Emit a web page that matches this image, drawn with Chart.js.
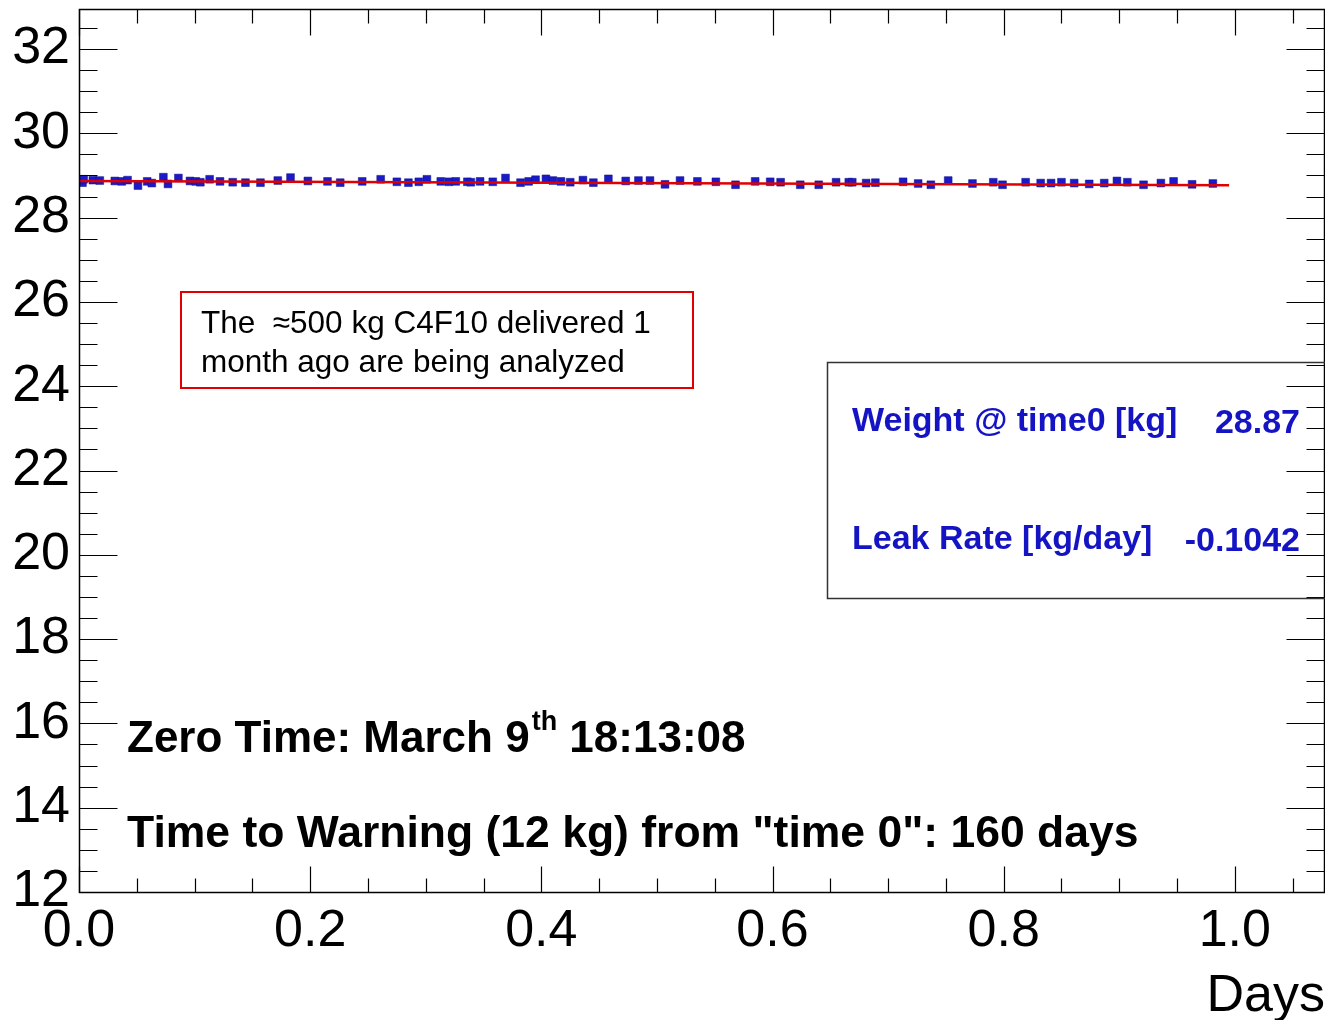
<!DOCTYPE html>
<html>
<head>
<meta charset="utf-8">
<script src="https://cdn.jsdelivr.net/npm/chart.js@4.4.1/dist/chart.umd.min.js"></script>
<style>
  html, body { margin: 0; padding: 0; background: #fff; }
  #wrap { width: 1325px; height: 1020px; position: relative; }
</style>
</head>
<body>
<div id="wrap"><canvas id="c"></canvas></div>
<script>
// ── Data ──────────────────────────────────────────────────
const timeDays = [
  0.003, 0.004, 0.012, 0.018, 0.031, 0.037, 0.042, 0.051, 0.059, 0.063,
  0.073, 0.077, 0.086, 0.096, 0.101, 0.105, 0.113, 0.122, 0.133, 0.144,
  0.157, 0.172, 0.183, 0.198, 0.215, 0.226, 0.245, 0.261, 0.275, 0.285,
  0.294, 0.301, 0.313, 0.320, 0.326, 0.336, 0.339, 0.347, 0.358, 0.369,
  0.382, 0.389, 0.395, 0.404, 0.410, 0.417, 0.425, 0.436, 0.445, 0.458,
  0.473, 0.484, 0.494, 0.507, 0.520, 0.535, 0.551, 0.568, 0.585, 0.598,
  0.607, 0.624, 0.640, 0.655, 0.666, 0.669, 0.681, 0.689, 0.713, 0.726,
  0.737, 0.752, 0.773, 0.791, 0.799, 0.819, 0.832, 0.841, 0.850, 0.861,
  0.874, 0.887, 0.898, 0.907, 0.921, 0.936, 0.947, 0.963, 0.981
];
const weightKg = [
  28.83, 28.91, 28.89, 28.88, 28.87, 28.86, 28.89, 28.76, 28.86, 28.82,
  28.96, 28.80, 28.94, 28.87, 28.86, 28.84, 28.91, 28.86, 28.84, 28.83,
  28.83, 28.88, 28.95, 28.87, 28.86, 28.83, 28.86, 28.91, 28.85, 28.83,
  28.85, 28.91, 28.86, 28.85, 28.86, 28.85, 28.84, 28.86, 28.85, 28.94,
  28.83, 28.86, 28.90, 28.92, 28.88, 28.86, 28.84, 28.89, 28.83, 28.92,
  28.87, 28.88, 28.88, 28.79, 28.88, 28.86, 28.85, 28.78, 28.86, 28.85,
  28.84, 28.78, 28.78, 28.84, 28.84, 28.84, 28.82, 28.83, 28.85, 28.81,
  28.78, 28.88, 28.81, 28.84, 28.78, 28.84, 28.82, 28.82, 28.84, 28.82,
  28.80, 28.82, 28.87, 28.84, 28.78, 28.82, 28.86, 28.79, 28.81
];
// linear fit: 28.87 kg at time 0, -0.1042 kg/day
const fitDays = [0, 0.995];
const fitKg = [28.87, 28.766];

const xTicks = [0, 0.2, 0.4, 0.6, 0.8, 1.0];
const yTicks = [12, 14, 16, 18, 20, 22, 24, 26, 28, 30, 32];

const FONT = '"Liberation Sans", Arial, Helvetica, sans-serif';

// ── ROOT-style frame, inward ticks and text boxes ─────────
const rootFrame = {
  id: 'rootFrame',
  afterDraw(chart) {
    const { ctx, chartArea: a, scales: { x, y } } = chart;
    const L = a.left + 0.5, R = a.right - 0.5, T = a.top + 0.5, B = a.bottom + 0.5;
    ctx.save();
    ctx.strokeStyle = '#000';
    ctx.lineWidth = 1.5;
    ctx.strokeRect(L, T, R - L, B - T);

    ctx.lineWidth = 1.2;
    ctx.beginPath();
    // y ticks, every 0.5 kg, long at every 2 kg
    for (let v = y.min; v <= y.max + 1e-9; v += 0.5) {
      const py = Math.round(y.getPixelForValue(v)) + 0.5;
      const len = Math.abs(v / 2 - Math.round(v / 2)) < 1e-6 ? 38 : 18;
      ctx.moveTo(L, py); ctx.lineTo(L + len, py);
      ctx.moveTo(R, py); ctx.lineTo(R - len, py);
    }
    // x ticks, every 0.05 day, long at every 0.2
    for (let i = 0; i * 0.05 <= x.max + 1e-9; i++) {
      const v = i * 0.05;
      const px = Math.round(x.getPixelForValue(v)) + 0.5;
      const len = i % 4 === 0 ? 26 : 14;
      ctx.moveTo(px, B); ctx.lineTo(px, B - len);
      ctx.moveTo(px, T); ctx.lineTo(px, T + len);
    }
    ctx.stroke();

    // axis title
    ctx.fillStyle = '#000';
    ctx.font = `52px ${FONT}`;
    ctx.textAlign = 'right';
    ctx.textBaseline = 'alphabetic';
    ctx.fillText('Days', 1325, 1011);

    // red note box
    ctx.textAlign = 'left';
    ctx.strokeStyle = '#e00000';
    ctx.lineWidth = 2;
    ctx.strokeRect(181, 292, 512, 96);
    ctx.font = `31.5px ${FONT}`;
    ctx.fillStyle = '#000';
    ctx.fillText('The  \u2248500 kg C4F10 delivered 1', 201, 333);
    ctx.fillText('month ago are being analyzed', 201, 372);

    // fit results box
    ctx.strokeStyle = '#333';
    ctx.lineWidth = 1.5;
    ctx.strokeRect(827.5, 362.5, 510, 236);
    ctx.fillStyle = '#1414c4';
    ctx.font = `bold 34px ${FONT}`;
    ctx.fillText('Weight @ time0 [kg]', 852, 431);
    ctx.fillText('Leak Rate [kg/day]', 852, 549);
    ctx.textAlign = 'right';
    ctx.fillText('28.87', 1300, 433);
    ctx.fillText('-0.1042', 1300, 551);

    // info lines
    ctx.textAlign = 'left';
    ctx.fillStyle = '#000';
    ctx.font = `bold 44px ${FONT}`;
    let cx = 127;
    const s1 = 'Zero Time: March 9';
    ctx.fillText(s1, cx, 752);
    cx += ctx.measureText(s1).width + 2;
    ctx.font = `bold 27px ${FONT}`;
    ctx.fillText('th', cx, 730);
    cx += ctx.measureText('th').width;
    ctx.font = `bold 44px ${FONT}`;
    ctx.fillText(' 18:13:08', cx, 752);
    ctx.font = `bold 44.5px ${FONT}`;
    ctx.fillText('Time to Warning (12 kg) from "time 0": 160 days', 127, 847);
    ctx.restore();
  }
};

new Chart(document.getElementById('c'), {
  type: 'scatter',
  data: {
    datasets: [
      {
        type: 'line',
        data: fitDays.map((d, i) => ({ x: d, y: fitKg[i] })),
        borderColor: '#e00000',
        borderWidth: 2.5,
        pointRadius: 0,
        fill: false,
      },
      {
        data: timeDays.map((d, i) => ({ x: d, y: weightKg[i] })),
        pointStyle: 'rect',
        pointRadius: 5.5,
        backgroundColor: '#1a1ac8',
        borderColor: '#10108a',
        borderWidth: 0.5,
      },
    ],
  },
  options: {
    responsive: true,
    maintainAspectRatio: false,
    animation: false,
    events: [],
    layout: { autoPadding: false, padding: { top: 9, right: 0, left: 0, bottom: 0 } },
    plugins: { legend: { display: false }, tooltip: { enabled: false } },
    scales: {
      x: {
        type: 'linear',
        min: 0,
        max: 1.078,
        grid: { display: false, drawTicks: false },
        border: { display: false },
        afterBuildTicks: s => { s.ticks = xTicks.map(v => ({ value: v })); },
        afterFit: s => { s.height = 128; s.paddingLeft = 0; s.paddingRight = 0; },
        ticks: {
          callback: v => v.toFixed(1),
          color: '#000',
          font: { family: FONT, size: 52 },
          padding: 8,
          maxRotation: 0,
          autoSkip: false,
        },
      },
      y: {
        min: 12,
        max: 32.95,
        grid: { display: false, drawTicks: false },
        border: { display: false },
        afterBuildTicks: s => { s.ticks = yTicks.map(v => ({ value: v })); },
        afterFit: s => { s.width = 79; s.paddingTop = 0; s.paddingBottom = 0; },
        ticks: {
          color: '#000',
          font: { family: FONT, size: 52 },
          padding: 9,
          autoSkip: false,
        },
      },
    },
  },
  plugins: [rootFrame],
});
</script>
</body>
</html>
